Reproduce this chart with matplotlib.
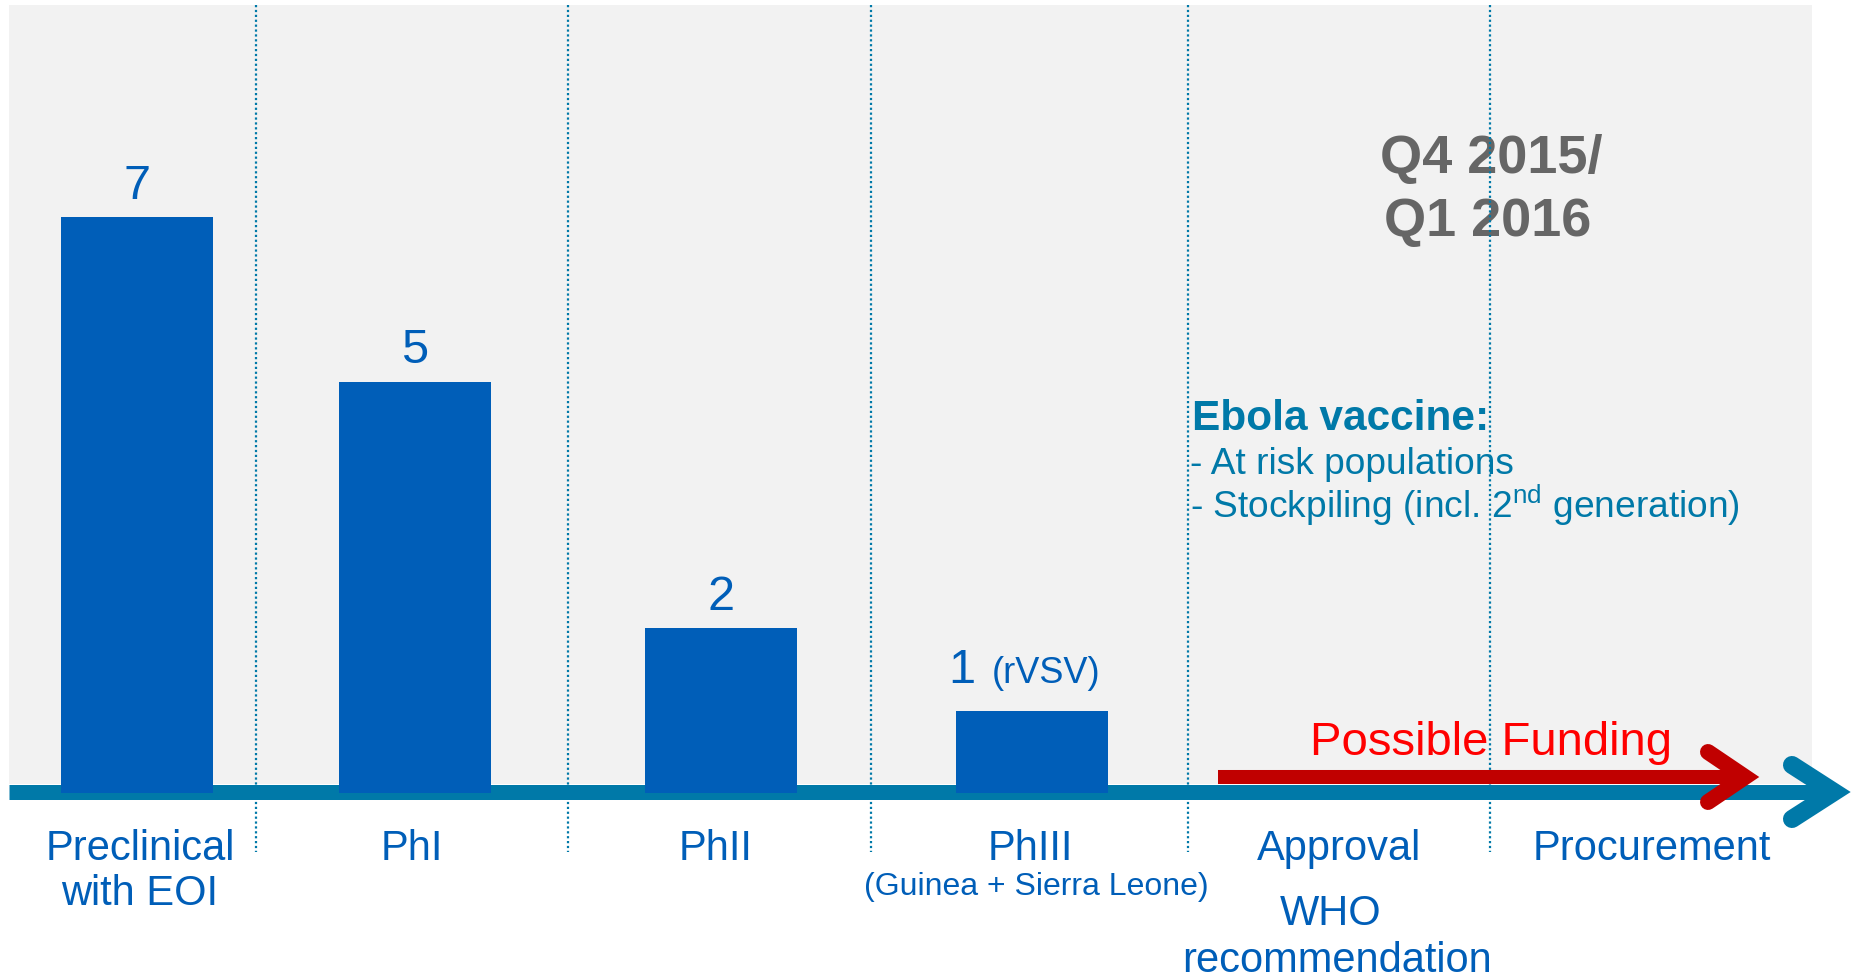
import matplotlib
matplotlib.use('Agg')
import matplotlib.pyplot as plt
from matplotlib.patches import Rectangle
from matplotlib.transforms import Affine2D

plt.rcParams['font.family'] = ['Liberation Sans', 'DejaVu Sans']
plt.rcParams['mathtext.fontset'] = 'custom'
plt.rcParams['mathtext.rm'] = 'Liberation Sans'

# data
stages = ['Preclinical', 'PhI', 'PhII', 'PhIII', 'Approval', 'Procurement']
candidates = [7, 5, 2, 1]
timing = ['Q4 2015/', 'Q1 2016']
vaccine_notes = ['- At risk populations',
                 '- Stockpiling (incl. 2$^{\\mathrm{nd}}$ generation)']

BLUE = '#005EB8'
TEAL = '#0079A8'
W, H = 1853, 980

# layout in pixels (top-left origin)
base_y = 793
unit = 82.3
bar_x = [137, 415, 721, 1032]
bar_w = 152
divider_x = [256, 568, 871, 1188, 1490]
label_x = [140, 412, 716, 1030, 1339, 1652]

fig = plt.figure(figsize=(W / 100, H / 100), dpi=100)
px = Affine2D().scale(1 / W, -1 / H).translate(0, 1) + fig.transFigure

ax = fig.add_axes([0, 0, 1, 1])
ax.set_xlim(0, W)
ax.set_ylim(-(H - base_y) / unit, base_y / unit)
ax.axis('off')

# background panel
ax.add_patch(Rectangle((9, 5), 1803, 779, transform=px, facecolor='#F2F2F2',
                       edgecolor='none', zorder=0))

# stage dividers (drawn over the text, as in the slide)
for x in divider_x:
    ax.plot([x, x], [5, 852], transform=px, color=TEAL, lw=1.6,
            ls=(0, (1, 1.2)), zorder=3.5)

# pipeline axis arrow
ax.plot([9, 1834], [791.5, 791.5], transform=px, color=TEAL, lw=10.8,
        solid_capstyle='butt', zorder=2)
ax.plot([1792, 1834, 1792], [765, 792, 819], transform=px, color=TEAL,
        lw=13, solid_capstyle='round', solid_joinstyle='miter', zorder=2)

# bars
ax.bar(bar_x, candidates, width=bar_w, color=BLUE, zorder=3)
for x, v in zip(bar_x, candidates):
    if v == 1:
        # small last bar: count sits left with a note beside it
        ax.text(x - 70, 683, str(v), transform=px, ha='center',
                va='baseline', fontsize=35, color=BLUE, zorder=3)
        ax.text(x - 40, 683, '(rVSV)', transform=px, ha='left',
                va='baseline', fontsize=26, color=BLUE, zorder=3)
    else:
        ax.text(x, v + 0.22, str(v), ha='center', va='baseline', fontsize=35,
                color=BLUE, zorder=3)

# funding arrow
ax.plot([1218, 1745], [777, 777], transform=px, color='#C00000', lw=10.1,
        solid_capstyle='butt', zorder=4)
ax.plot([1708, 1745, 1708], [752, 777, 802], transform=px, color='#C00000',
        lw=11.5, solid_capstyle='round', solid_joinstyle='miter', zorder=4)
ax.text(1491, 755, 'Possible Funding', transform=px, ha='center',
        va='baseline', fontsize=34, color='#FF0000', zorder=3)

# stage labels
for x, s in zip(label_x, stages):
    ax.text(x, 860, s, transform=px, ha='center', va='baseline', fontsize=30,
            color=BLUE)
ax.text(140, 905, 'with EOI', transform=px, ha='center', va='baseline',
        fontsize=30, color=BLUE)
ax.text(1036, 895, '(Guinea + Sierra Leone)', transform=px, ha='center',
        va='baseline', fontsize=23, color=BLUE)
ax.text(1331, 925, 'WHO', transform=px, ha='center', va='baseline',
        fontsize=30, color=BLUE)
ax.text(1337, 972, 'recommendation', transform=px, ha='center',
        va='baseline', fontsize=30, color=BLUE)

# timing
for yy, xx, t in zip([173, 236], [1491, 1488], timing):
    ax.text(xx, yy, t, transform=px, ha='center', va='baseline',
            fontsize=39, fontweight='bold', color='#666666', zorder=3)

# vaccine note
ax.text(1192, 430, 'Ebola vaccine:', transform=px, ha='left', va='baseline',
        fontsize=30.5, fontweight='bold', color=TEAL, zorder=3)
for yy, t in zip([474, 518], vaccine_notes):
    ax.text(1190, yy, t, transform=px, ha='left', va='baseline',
            fontsize=26.7, color=TEAL, zorder=3)

fig.savefig('out.png', dpi=100)
